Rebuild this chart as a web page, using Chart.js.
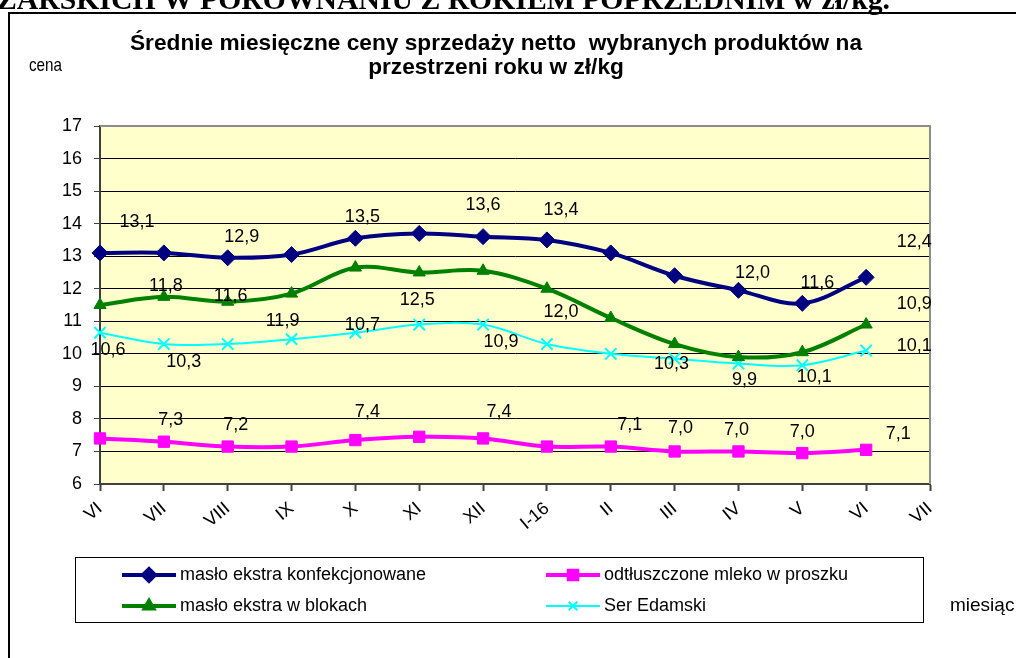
<!DOCTYPE html>
<html>
<head>
<meta charset="utf-8">
<script src="https://cdn.jsdelivr.net/npm/chart.js@4.4.0/dist/chart.umd.min.js"></script>
<style>
    html, body { margin: 0; padding: 0; background: #fff; overflow: hidden; }
    #wrap { position: relative; width: 1016px; height: 658px; }
</style>
</head>
<body>
<div id="wrap"><canvas id="price-chart" width="1016" height="658"></canvas></div>
<script>
(function () {
    'use strict';

    // miesiące (ostatni VII bez danych)
    var months = ['VI', 'VII', 'VIII', 'IX', 'X', 'XI', 'XII', 'I-16', 'II', 'III', 'IV', 'V', 'VI', 'VII'];
    var yMin = 6;
    var yMax = 17;

    // ceny w zł/kg
    var masloKonf  = [13.1, 13.1, 12.95, 13.05, 13.55, 13.7, 13.6, 13.5, 13.1, 12.4, 11.95, 11.55, 12.35];
    var mleko      = [7.4, 7.3, 7.15, 7.15, 7.35, 7.45, 7.4, 7.15, 7.15, 7.0, 7.0, 6.95, 7.05];
    var masloBloki = [11.5, 11.75, 11.6, 11.85, 12.65, 12.5, 12.55, 12.0, 11.1, 10.3, 9.9, 10.05, 10.9];
    var ser        = [10.65, 10.3, 10.3, 10.45, 10.65, 10.9, 10.9, 10.3, 10.0, 9.85, 9.7, 9.65, 10.1];

    // etykiety wartości (tylko przy wybranych punktach)
    var masloKonfTxt  = ['13,1', null, '12,9', null, '13,5', null, '13,6', '13,4', null, null, '12,0', '11,6', '12,4'];
    var mlekoTxt      = [null, '7,3', '7,2', null, '7,4', null, '7,4', null, '7,1', '7,0', '7,0', '7,0', '7,1'];
    var masloBlokiTxt = [null, '11,8', '11,6', '11,9', null, '12,5', null, '12,0', null, '10,3', '9,9', '10,1', '10,9'];
    var serTxt        = ['10,6', '10,3', null, null, '10,7', null, '10,9', null, null, null, null, null, '10,1'];

    // przesunięcia etykiet względem punktu (px)
    var labelOffsets = [
        [[37, -31], null, [14, -21], null, [7, -21], null, [0, -32], [14, -30], null, null, [14, -17], [15, -20], [48, -35]],
        [null, [7, -22], [8, -22], null, [12, -28], null, [16, -26], null, [19, -22], [6, -23], [-2, -21], [0, -21], [32, -16]],
        [null, [2, -11], [3, -6], [-9, 27], null, [-2, 28], null, [14, 23], null, [-3, 20], [6, 23], [12, 25], [48, -20]],
        [[8, 17], [20, 18], null, null, [7, -8], null, [18, 18], null, null, null, null, null, [48, -5]]
    ];
    var labelTexts = [masloKonfTxt, mlekoTxt, masloBlokiTxt, serTxt];

    var FONT = '"Liberation Sans", Arial, sans-serif';

    var datasets = [
        {
            label: 'masło ekstra konfekcjonowane',
            data: masloKonf,
            borderColor: '#000080', backgroundColor: '#000080',
            borderWidth: 4, pointStyle: 'rectRot', pointRadius: 8, pointBorderWidth: 1
        },
        {
            label: 'odtłuszczone mleko w proszku',
            data: mleko,
            borderColor: '#ff00ff', backgroundColor: '#ff00ff',
            borderWidth: 4, pointStyle: 'rect', pointRadius: 8, pointBorderWidth: 1
        },
        {
            label: 'masło ekstra w blokach',
            data: masloBloki,
            borderColor: '#008000', backgroundColor: '#008000',
            borderWidth: 4, pointStyle: 'triangle', pointRadius: 7, pointBorderWidth: 1
        },
        {
            label: 'Ser Edamski',
            data: ser,
            borderColor: '#00ffff', backgroundColor: '#00ffff',
            borderWidth: 2, pointStyle: 'crossRot', pointRadius: 8, pointBorderWidth: 2
        }
    ];
    datasets.forEach(function (ds) {
        ds.tension = 0.35;
        ds.fill = false;
        ds.pointBackgroundColor = ds.borderColor;
        ds.pointBorderColor = ds.borderColor;
    });

    var decor = {
        id: 'decor',
        beforeDraw: function (chart) {
            var ctx = chart.ctx;
            var a = chart.chartArea;
            ctx.save();
            ctx.fillStyle = '#ffffff';
            ctx.fillRect(0, 0, chart.width, chart.height);
            ctx.fillStyle = '#ffffcc';
            ctx.fillRect(a.left, a.top, a.right - a.left, a.bottom - a.top);
            ctx.restore();
        },
        afterDatasetsDraw: function (chart) {
            var ctx = chart.ctx;
            var a = chart.chartArea;
            ctx.save();
            // górna i prawa krawędź obszaru wykresu
            ctx.strokeStyle = '#8c8c8c';
            ctx.lineWidth = 2;
            ctx.beginPath();
            ctx.moveTo(a.left, a.top);
            ctx.lineTo(a.right, a.top);
            ctx.lineTo(a.right, a.bottom);
            ctx.stroke();

            // etykiety wartości
            ctx.fillStyle = '#000';
            ctx.font = '18px ' + FONT;
            ctx.textAlign = 'center';
            ctx.textBaseline = 'middle';
            labelTexts.forEach(function (txts, i) {
                var meta = chart.getDatasetMeta(i);
                txts.forEach(function (t, j) {
                    if (!t) return;
                    var el = meta.data[j];
                    var off = labelOffsets[i][j] || [0, -20];
                    ctx.fillText(t, el.x + off[0], el.y + off[1]);
                });
            });
            ctx.restore();
        },
        afterDraw: function (chart) {
            var ctx = chart.ctx;
            ctx.save();

            // fragment nagłówka dokumentu nad wykresem
            ctx.fillStyle = '#000';
            ctx.font = 'bold 30px "Liberation Serif", "Times New Roman", serif';
            ctx.textAlign = 'left';
            ctx.textBaseline = 'alphabetic';
            ctx.fillText('ZARSKICH W PORÓWNANIU Z ROKIEM POPRZEDNIM w zł/kg.', -3, 9, 893);

            // ramka
            ctx.strokeStyle = '#000';
            ctx.lineWidth = 2;
            ctx.strokeRect(9, 13, 1200, 800);

            // tytuł (zwężony)
            ctx.font = 'bold 22px ' + FONT;
            ctx.textBaseline = 'middle';
            ctx.textAlign = 'left';
            var l1 = 'Średnie miesięczne ceny sprzedaży netto  wybranych produktów na';
            var l2 = 'przestrzeni roku w zł/kg';
            var sx = 732 / ctx.measureText(l1).width;
            var w2 = ctx.measureText(l2).width * sx;
            ctx.save();
            ctx.translate(130, 44);
            ctx.scale(sx, 1);
            ctx.fillText(l1, 0, 0);
            ctx.restore();
            ctx.save();
            ctx.translate(496 - w2 / 2, 68);
            ctx.scale(sx, 1);
            ctx.fillText(l2, 0, 0);
            ctx.restore();

            // opisy osi
            ctx.font = '19px ' + FONT;
            ctx.save();
            ctx.translate(29, 66);
            ctx.scale(33 / ctx.measureText('cena').width, 1);
            ctx.fillText('cena', 0, 0);
            ctx.restore();
            ctx.fillText('miesiąc', 950, 606);

            // legenda
            ctx.lineWidth = 1;
            ctx.strokeStyle = '#000';
            ctx.strokeRect(75.5, 557.5, 848, 65);
            var items = [
                { i: 0, x: 122, y: 575, w: 268 },
                { i: 1, x: 546, y: 575, w: 268 },
                { i: 2, x: 122, y: 606, w: 204 },
                { i: 3, x: 546, y: 606, w: 112 }
            ];
            items.forEach(function (it) {
                var ds = chart.data.datasets[it.i];
                ctx.strokeStyle = ds.borderColor;
                ctx.fillStyle = ds.borderColor;
                ctx.lineWidth = ds.borderWidth;
                ctx.beginPath();
                ctx.moveTo(it.x, it.y);
                ctx.lineTo(it.x + 54, it.y);
                ctx.stroke();
                Chart.helpers.drawPoint(ctx, {
                    pointStyle: ds.pointStyle,
                    radius: ds.pointRadius - 2,
                    rotation: 0,
                    borderWidth: ds.pointBorderWidth
                }, it.x + 27, it.y);
                ctx.fillStyle = '#000';
                ctx.font = '18px ' + FONT;
                ctx.textBaseline = 'middle';
                ctx.fillText(ds.label, it.x + 58, it.y, it.w);
            });
            ctx.restore();
        }
    };

    new Chart(document.getElementById('price-chart'), {
        type: 'line',
        data: {
            labels: months,
            datasets: datasets
        },
        options: {
            responsive: false,
            animation: false,
            layout: {
                padding: { left: 50, top: 126, right: 86, bottom: 74 }
            },
            plugins: {
                legend: { display: false },
                tooltip: { enabled: false },
                title: { display: false }
            },
            scales: {
                x: {
                    type: 'category',
                    offset: false,
                    afterFit: function (s) { s.height = 100; },
                    border: { color: '#404040', width: 2 },
                    grid: {
                        drawOnChartArea: false,
                        tickLength: 7,
                        tickColor: '#404040',
                        tickWidth: 2
                    },
                    ticks: {
                        autoSkip: false,
                        minRotation: 40,
                        maxRotation: 40,
                        padding: 7,
                        color: '#000',
                        font: { family: FONT, size: 18 }
                    }
                },
                y: {
                    min: yMin,
                    max: yMax,
                    afterFit: function (s) { s.width = 50; },
                    border: { color: '#404040', width: 2 },
                    grid: {
                        color: '#000',
                        lineWidth: 1,
                        tickLength: 6,
                        tickColor: '#404040'
                    },
                    ticks: {
                        stepSize: 1,
                        padding: 12,
                        color: '#000',
                        font: { family: FONT, size: 18 }
                    }
                }
            }
        },
        plugins: [decor]
    });
})();
</script>
</body>
</html>
